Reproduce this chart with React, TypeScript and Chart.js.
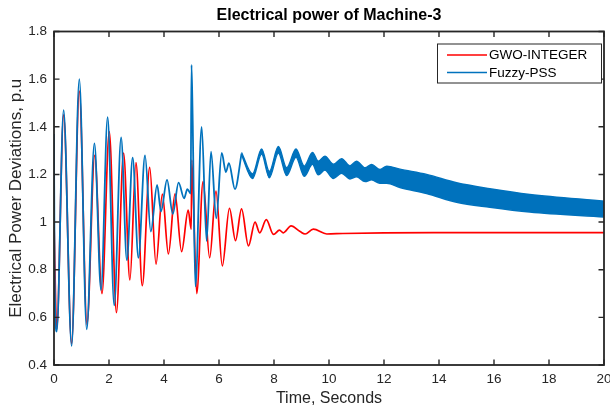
import React, { useEffect, useRef } from "react";
import { Chart, registerables } from "chart.js";

Chart.register(...registerables);

// ---- Data ----
const chartTitle = "Electrical power of Machine-3";
const xAxisTitle = "Time, Seconds";
const yAxisTitle = "Electrical Power Deviations, p.u";
const seriesNames = ["GWO-INTEGER", "Fuzzy-PSS"];

// GWO-INTEGER (red)
const redTime = [
  0, 0.1, 0.35, 0.64, 0.92, 1.2, 1.48, 1.745, 2.01, 2.27, 2.53, 2.76, 2.98, 3.21, 3.48, 3.71,
  3.94, 4.16, 4.4, 4.64, 4.88, 4.99, 5.01, 5.19, 5.42, 5.66, 5.89, 6.12, 6.38, 6.6, 6.82, 7.07,
  7.31, 7.48, 7.72, 7.98, 8.2, 8.34, 8.62, 8.95, 9.13, 9.43, 9.92, 10.5, 12, 14, 16, 18, 20,
];
const redValue = [
  1.0, 0.55, 1.45, 0.49, 1.55, 0.57, 1.28, 0.7, 1.38, 0.62, 1.29, 0.757, 1.25, 0.733, 1.23, 0.823,
  1.117, 0.866, 1.118, 0.876, 1.05, 0.97, 1.26, 0.7, 1.17, 0.85, 1.13, 0.816, 1.058, 0.922, 1.055, 0.9,
  1.0, 0.955, 1.01, 0.948, 0.966, 0.955, 0.984, 0.96, 0.95, 0.97, 0.95, 0.952, 0.955, 0.956, 0.956, 0.956, 0.956,
];

// Fuzzy-PSS (blue) – single trace part
const blueTime = [
  0, 0.02, 0.1, 0.35, 0.64, 0.92, 1.19, 1.47, 1.71, 1.95, 2.19, 2.44, 2.65, 2.86, 3.07, 3.31,
  3.52, 3.75, 3.89, 4.11, 4.32, 4.53, 4.73, 4.85, 4.97, 5.0, 5.04, 5.14, 5.37, 5.55, 5.71, 5.9,
  6.1, 6.25, 6.36, 6.58, 6.82,
];
const blueValue = [
  1.37, 0.8, 0.54, 1.47, 0.48, 1.6, 0.55, 1.33, 0.715, 1.44, 0.65, 1.355, 0.84, 1.27, 0.85, 1.28,
  0.96, 1.156, 1.044, 1.177, 1.034, 1.166, 1.1, 1.138, 1.12, 1.66, 1.45, 0.73, 1.4, 0.92, 1.296, 1.016,
  1.29, 1.21, 1.247, 1.138, 1.287,
];

// Fuzzy-PSS (blue) – fast oscillation band (upper / lower edges)
const bandTime = [
  6.82, 7.22, 7.55, 7.83, 8.16, 8.46, 8.8, 9.1, 9.4, 9.61, 9.85, 10.16, 10.46, 10.76, 11.0, 11.31,
  11.55, 11.85, 12.1, 12.58, 13.55, 14.64, 15.85, 17.3, 20,
];
const bandUpper = [
  1.292, 1.202, 1.307, 1.212, 1.317, 1.228, 1.307, 1.235, 1.292, 1.256, 1.277, 1.243, 1.266, 1.236, 1.256, 1.228,
  1.242, 1.221, 1.235, 1.222, 1.2, 1.165, 1.14, 1.116, 1.088,
];
const bandLower = [
  1.282, 1.183, 1.286, 1.186, 1.29, 1.195, 1.272, 1.192, 1.242, 1.198, 1.218, 1.183, 1.205, 1.181, 1.19, 1.17,
  1.177, 1.163, 1.163, 1.145, 1.12, 1.083, 1.062, 1.042, 1.021,
];

const xMin = 0;
const xMax = 20;
const xStep = 2;
const yMin = 0.4;
const yMax = 1.8;
const yStep = 0.2;

const RED = "#ff0000";
const BLUE = "#0072bd";
const AXIS = "#262626";
const FONT = "'Liberation Sans', Arial, Helvetica, sans-serif";

const toPts = (t: number[], v: number[]) => t.map((x, i) => ({ x, y: v[i] }));

const matlabAxes = {
  id: "matlabAxes",
  afterDatasetsDraw(chart: any) {
    const { ctx, chartArea: a, scales } = chart;
    const xs = scales.x;
    const ys = scales.y;
    ctx.save();
    ctx.strokeStyle = AXIS;
    ctx.lineWidth = 1.8;
    ctx.strokeRect(a.left, a.top, a.right - a.left, a.bottom - a.top);
    const L = 5.5;
    ctx.lineWidth = 1.4;
    ctx.beginPath();
    xs.ticks.forEach((t: any) => {
      const px = xs.getPixelForValue(t.value);
      ctx.moveTo(px, a.bottom);
      ctx.lineTo(px, a.bottom - L);
      ctx.moveTo(px, a.top);
      ctx.lineTo(px, a.top + L);
    });
    ys.ticks.forEach((t: any) => {
      const py = ys.getPixelForValue(t.value);
      ctx.moveTo(a.left, py);
      ctx.lineTo(a.left + L, py);
      ctx.moveTo(a.right, py);
      ctx.lineTo(a.right - L, py);
    });
    ctx.stroke();
    ctx.restore();
  },
};

const boxLegend = {
  id: "boxLegend",
  afterDraw(chart: any) {
    const { ctx, chartArea: a } = chart;
    const right = a.right - 2;
    const left = right - 165;
    const top = a.top + 12;
    const h = 40;
    ctx.save();
    ctx.fillStyle = "#ffffff";
    ctx.fillRect(left, top, right - left, h);
    ctx.strokeStyle = AXIS;
    ctx.lineWidth = 1;
    ctx.strokeRect(left + 0.5, top + 0.5, right - left - 1, h - 1);
    const colors = [RED, BLUE];
    ctx.font = `13.5px ${FONT}`;
    ctx.textBaseline = "middle";
    ctx.textAlign = "left";
    seriesNames.forEach((name, i) => {
      const y = top + 11.5 + i * 17.5;
      ctx.strokeStyle = colors[i];
      ctx.lineWidth = 1.4;
      ctx.beginPath();
      ctx.moveTo(left + 10, y);
      ctx.lineTo(left + 50, y);
      ctx.stroke();
      ctx.fillStyle = "#000000";
      ctx.fillText(name, left + 52, y + 0.5);
    });
    ctx.restore();
  },
};

export default function App() {
  const ref = useRef<HTMLCanvasElement | null>(null);

  useEffect(() => {
    if (!ref.current) return;
    const chart = new Chart(ref.current, {
      type: "line",
      data: {
        datasets: [
          {
            label: seriesNames[0],
            data: toPts(redTime, redValue),
            borderColor: RED,
            backgroundColor: RED,
            borderWidth: 1.7,
            pointRadius: 0,
            cubicInterpolationMode: "monotone",
            fill: false,
            order: 3,
          },
          {
            label: seriesNames[1],
            data: toPts(blueTime, blueValue),
            borderColor: BLUE,
            backgroundColor: BLUE,
            borderWidth: 1.8,
            pointRadius: 0,
            cubicInterpolationMode: "monotone",
            fill: false,
            order: 1,
          },
          {
            label: seriesNames[1] + " (band top)",
            data: toPts(bandTime, bandUpper),
            borderColor: BLUE,
            backgroundColor: BLUE,
            borderWidth: 1.4,
            pointRadius: 0,
            cubicInterpolationMode: "monotone",
            fill: false,
            order: 2,
          },
          {
            label: seriesNames[1] + " (band bottom)",
            data: toPts(bandTime, bandLower),
            borderColor: BLUE,
            backgroundColor: BLUE,
            borderWidth: 1.4,
            pointRadius: 0,
            cubicInterpolationMode: "monotone",
            fill: "-1",
            order: 2,
          },
        ],
      },
      options: {
        responsive: false,
        animation: false,
        devicePixelRatio: 1,
        parsing: false as any,
        layout: { padding: { left: 0, right: 6, top: 0, bottom: 0 } },
        plugins: {
          legend: { display: false },
          tooltip: { enabled: false },
          title: {
            display: true,
            text: chartTitle,
            fullSize: false,
            color: "#000000",
            font: { family: FONT, size: 16, weight: "bold" },
            padding: { top: 5.5, bottom: 6.8 },
          },
        },
        scales: {
          x: {
            type: "linear",
            min: xMin,
            max: xMax,
            grid: { display: false, drawTicks: false },
            border: { display: false },
            ticks: {
              stepSize: xStep,
              padding: 6,
              color: AXIS,
              font: { family: FONT, size: 13.5 },
              maxRotation: 0,
              autoSkip: false,
            },
            title: {
              display: true,
              text: xAxisTitle,
              color: AXIS,
              font: { family: FONT, size: 16 },
              padding: { top: 0, bottom: 3 },
            },
            afterFit(scale: any) {
              scale.height = 46;
              scale.paddingLeft = 0;
              scale.paddingRight = 0;
            },
          },
          y: {
            type: "linear",
            min: yMin,
            max: yMax,
            grid: { display: false, drawTicks: false },
            border: { display: false },
            ticks: {
              stepSize: yStep,
              padding: 7,
              color: AXIS,
              font: { family: FONT, size: 13.5 },
              callback: (v: any) => String(Number(Number(v).toFixed(1))),
            },
            title: {
              display: true,
              text: yAxisTitle,
              color: AXIS,
              font: { family: FONT, size: 17 },
              padding: { top: 6, bottom: 0 },
            },
            afterFit(scale: any) {
              scale.width = 54;
              scale.paddingTop = 0;
              scale.paddingBottom = 0;
            },
          },
        },
      },
      plugins: [matlabAxes, boxLegend],
    });
    return () => chart.destroy();
  }, []);

  return (
    <div style={{ position: "fixed", left: 0, top: 0, width: 610, height: 411, background: "#ffffff" }}>
      <canvas ref={ref} width={610} height={411} style={{ display: "block" }} />
    </div>
  );
}
